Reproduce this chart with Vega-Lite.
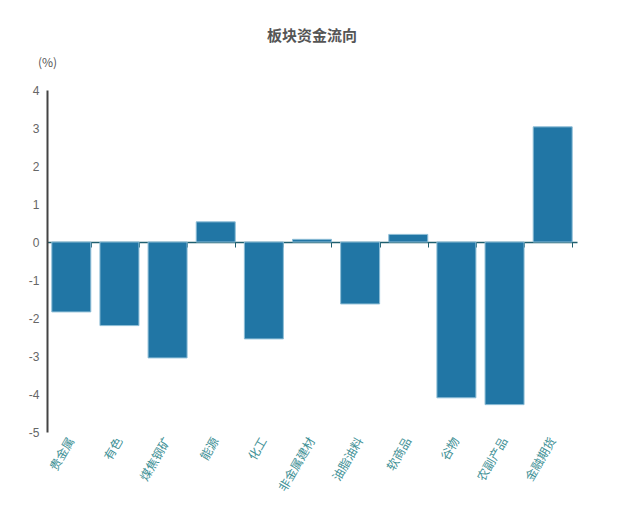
{
  "$schema": "https://vega.github.io/schema/vega-lite/v6.json",
  "autosize": "none",
  "padding": {"left": 47, "top": 90, "right": 41, "bottom": 78},
  "width": 530,
  "height": 342,
  "background": "white",
  "title": {
    "text": "板块资金流向",
    "fontSize": 15,
    "fontWeight": "bold",
    "color": "#555555",
    "font": "Noto Sans CJK SC",
    "frame": "group",
    "anchor": "middle",
    "offset": 12
  },
  "data": {
    "values": [
      {"sector": "贵金属", "value": -1.84},
      {"sector": "有色", "value": -2.2},
      {"sector": "煤焦钢矿", "value": -3.05},
      {"sector": "能源", "value": 0.53},
      {"sector": "化工", "value": -2.55},
      {"sector": "非金属建材", "value": 0.07},
      {"sector": "油脂油料", "value": -1.63},
      {"sector": "软商品", "value": 0.2},
      {"sector": "谷物", "value": -4.1},
      {"sector": "农副产品", "value": -4.28},
      {"sector": "金融期货", "value": 3.03}
    ]
  },
  "layer": [
    {
      "mark": {"type": "bar", "color": "#2176a5", "stroke": "#8dbdd6", "strokeWidth": 1},
      "encoding": {
        "x": {
          "field": "sector",
          "type": "nominal",
          "sort": null,
          "scale": {"paddingInner": 0.19, "paddingOuter": 0.1},
          "axis": {
            "orient": "bottom",
            "title": null,
            "domain": false,
            "ticks": false,
            "labelAngle": -60,
            "labelAlign": "right",
            "labelBaseline": "middle",
            "labelColor": "#3f9196",
            "labelFontSize": 12,
            "labelFont": "Noto Sans CJK SC",
            "labelPadding": 6
          }
        },
        "y": {
          "field": "value",
          "type": "quantitative",
          "scale": {"domain": [-5, 4], "nice": false},
          "axis": {
            "title": "(%)",
            "titleAngle": 0,
            "titleAlign": "center",
            "titleBaseline": "middle",
            "titleX": 0,
            "titleY": -28,
            "titleFontSize": 12,
            "titleFontWeight": "normal",
            "titleColor": "#555555",
            "titleFont": "Noto Sans CJK SC",
            "values": [-5, -4, -3, -2, -1, 0, 1, 2, 3, 4],
            "tickCount": 10,
            "labelExpr": "'' + datum.value",
            "labelOverlap": false,
            "grid": false,
            "ticks": false,
            "domainColor": "#444444",
            "domainWidth": 2,
            "labelColor": "#666666",
            "labelFontSize": 12,
            "labelPadding": 8
          }
        }
      }
    },
    {
      "mark": {"type": "bar", "opacity": 0},
      "encoding": {
        "x": {
          "field": "sector",
          "type": "nominal",
          "sort": null,
          "axis": {
            "orient": "bottom",
            "title": null,
            "labels": false,
            "offset": -190,
            "domainColor": "#1f5f6f",
            "domainWidth": 1.5,
            "tickColor": "#1f5f6f",
            "tickSize": 5,
            "tickBand": "extent"
          }
        },
        "y": {
          "field": "value",
          "type": "quantitative",
          "axis": {
            "title": "(%)",
            "titleAngle": 0,
            "titleAlign": "center",
            "titleBaseline": "middle",
            "titleX": 0,
            "titleY": -28,
            "titleFontSize": 12,
            "titleFontWeight": "normal",
            "titleColor": "#555555",
            "titleFont": "Noto Sans CJK SC",
            "values": [-5, -4, -3, -2, -1, 0, 1, 2, 3, 4],
            "tickCount": 10,
            "labelExpr": "'' + datum.value",
            "labelOverlap": false,
            "grid": false,
            "ticks": false,
            "domainColor": "#444444",
            "domainWidth": 2,
            "labelColor": "#666666",
            "labelFontSize": 12,
            "labelPadding": 8
          }
        }
      }
    }
  ],
  "resolve": {"axis": {"x": "independent"}},
  "config": {"view": {"stroke": null}}
}
